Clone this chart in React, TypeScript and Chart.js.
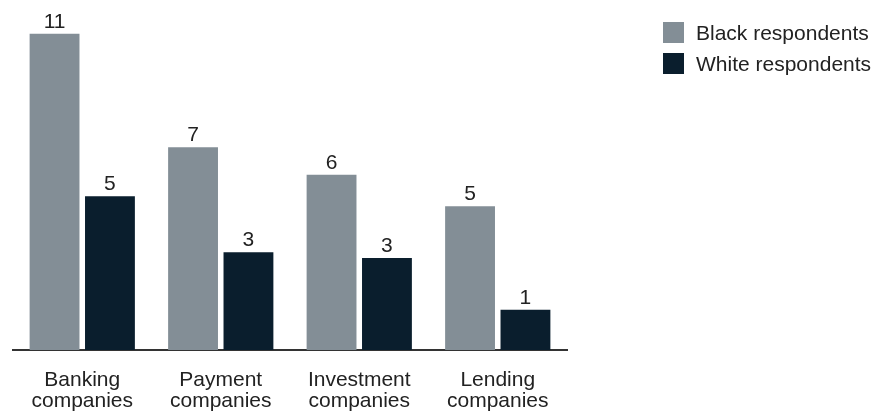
import React, { useEffect, useRef } from "react";
import { Chart, registerables } from "chart.js";

Chart.register(...registerables);

const categories: string[][] = [
  ["Banking", "companies"],
  ["Payment", "companies"],
  ["Investment", "companies"],
  ["Lending", "companies"],
];
const seriesNames = ["Black respondents", "White respondents"];
const blackValues = [11.0, 7.05, 6.1, 5.0];
const whiteValues = [5.35, 3.4, 3.2, 1.4];
const colors = ["#838e96", "#0a1e2d"];

const FONT = "'Liberation Sans', Arial, sans-serif";
const TEXT = "#222222";

const valueLabels = {
  id: "valueLabels",
  afterDatasetsDraw(chart: any) {
    const ctx = chart.ctx;
    ctx.save();
    ctx.font = `21px ${FONT}`;
    ctx.fillStyle = TEXT;
    ctx.textAlign = "center";
    ctx.textBaseline = "alphabetic";
    chart.data.datasets.forEach((ds: any, i: number) => {
      const meta = chart.getDatasetMeta(i);
      meta.data.forEach((bar: any, j: number) => {
        const v = ds.data[j] as number;
        ctx.fillText(String(Math.round(v)), bar.x, bar.y - 6);
      });
    });
    ctx.restore();
  },
};

export default function App() {
  const ref = useRef<HTMLCanvasElement | null>(null);

  useEffect(() => {
    if (!ref.current) return;
    const chart = new Chart(ref.current, {
      type: "bar",
      data: {
        labels: categories,
        datasets: [
          {
            label: seriesNames[0],
            data: blackValues,
            backgroundColor: colors[0],
            categoryPercentage: 0.8,
            barPercentage: 0.9,
          },
          {
            label: seriesNames[1],
            data: whiteValues,
            backgroundColor: colors[1],
            categoryPercentage: 0.8,
            barPercentage: 0.9,
          },
        ],
      },
      options: {
        animation: false,
        responsive: false,
        layout: { padding: { left: 13, right: 316, top: 5, bottom: 3 } },
        plugins: {
          legend: { display: false },
          tooltip: { enabled: false },
        },
        scales: {
          x: {
            grid: { display: false, drawTicks: false },
            border: { display: true, color: "#333333", width: 2 },
            ticks: {
              color: TEXT,
              font: { family: FONT, size: 21, lineHeight: 1.0 },
              padding: 20,
              maxRotation: 0,
              autoSkip: false,
            },
            afterFit(scale: any) {
              scale.height = 62;
            },
          },
          y: {
            display: false,
            min: 0,
            max: 12,
          },
        },
      },
      plugins: [valueLabels],
    });
    return () => chart.destroy();
  }, []);

  return (
    <div style={{ position: "fixed", left: 0, top: 0, width: 883, height: 415, background: "#fff" }}>
      <canvas ref={ref} width={883} height={415} style={{ display: "block" }} />
      <div style={{ position: "absolute", left: 663, top: 22, fontFamily: FONT, fontSize: 21, color: TEXT }}>
        {seriesNames.map((name, i) => (
          <div key={name} style={{ display: "flex", alignItems: "center", height: 21, marginBottom: 10, whiteSpace: "nowrap" }}>
            <span style={{ display: "inline-block", width: 21, height: 21, background: colors[i], marginRight: 12 }} />
            <span style={{ lineHeight: "21px" }}>{name}</span>
          </div>
        ))}
      </div>
    </div>
  );
}
